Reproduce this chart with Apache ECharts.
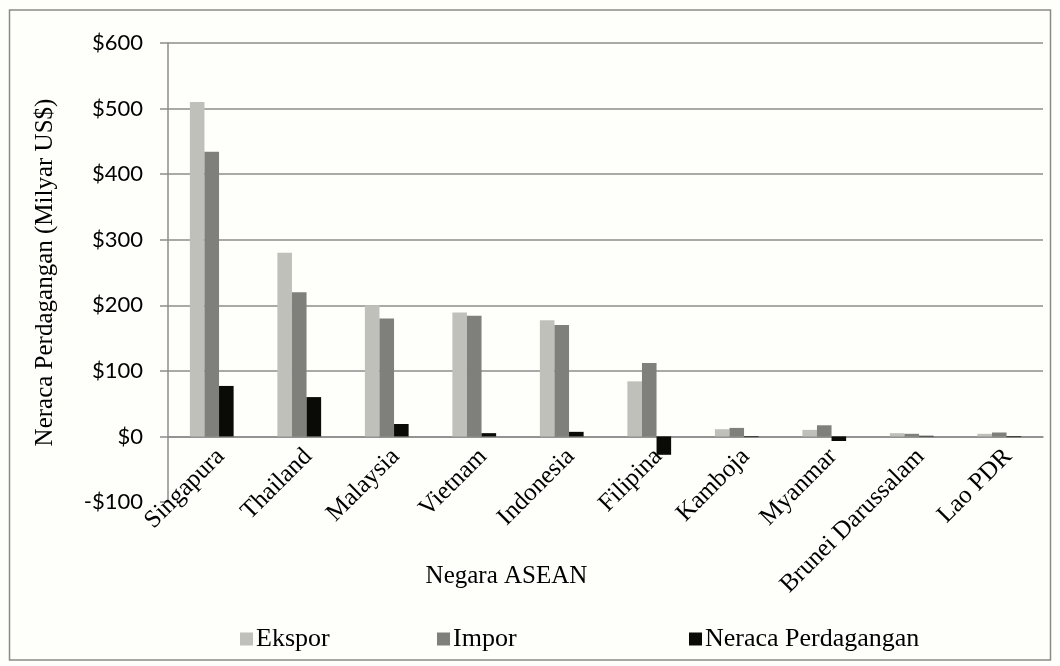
<!DOCTYPE html>
<html>
<head>
<meta charset="utf-8">
<script src="https://cdn.jsdelivr.net/npm/echarts@6/dist/echarts.min.js"></script>
<style>
html,body{margin:0;padding:0;background:#fefefa;}
#chart{width:1060px;height:666px;}
</style>
</head>
<body>
<div id="chart"></div>
<script>
const categories = ['Singapura','Thailand','Malaysia','Vietnam','Indonesia','Filipina','Kamboja','Myanmar','Brunei Darussalam','Lao PDR'];
const ekspor = [510, 280, 200, 189, 177, 84, 11, 10, 5, 4];
const impor  = [434, 220, 180, 184, 170, 112, 13, 17, 4, 6];
const neraca = [77, 60, 19, 5, 7, -28, -1, -7, 1, -1];
const seriesNames = ['Ekspor', 'Impor', 'Neraca Perdagangan'];
const yTicks = [-100, 0, 100, 200, 300, 400, 500, 600];

const serif = '"Liberation Serif", "Times New Roman", serif';
const sans = 'Lato, "Open Sans", sans-serif';
const gridColor = '#8c8c8c';

const chart = echarts.init(document.getElementById('chart'));
const legendCommon = {
  orient: 'horizontal', top: 626, padding: 0, itemWidth: 13, itemHeight: 13, icon: 'rect',
  itemGap: 0, selectedMode: false,
  textStyle: {fontFamily: serif, fontSize: 26, color: '#000', padding: [0,0,0,-2]}
};
chart.setOption({
  backgroundColor: '#fefefa',
  animation: false,
  graphic: [{
    type: 'rect', shape: {x: 9.5, y: 10, width: 1041, height: 650},
    style: {fill: 'none', stroke: '#8a8a8a', lineWidth: 1.5}, silent: true
  }],
  grid: {left: 168, top: 43, right: 17, bottom: 164, containLabel: false, outerBoundsMode: 'none'},
  legend: [
    Object.assign({}, legendCommon, {left: 240, data: [seriesNames[0]]}),
    Object.assign({}, legendCommon, {left: 437, data: [seriesNames[1]]}),
    Object.assign({}, legendCommon, {left: 689, data: [seriesNames[2]]})
  ],
  xAxis: {
    type: 'category', data: categories,
    name: 'Negara ASEAN', nameLocation: 'middle', nameGap: 62, nameMoveOverlap: false,
    nameTextStyle: {fontFamily: serif, fontSize: 25, color: '#000', padding: [0, 198, 0, 0]},
    axisLine: {onZero: true, lineStyle: {color: gridColor, width: 1.5}},
    axisTick: {show: false},
    axisLabel: {rotate: 45, interval: 0, margin: -58, verticalAlign: 'top', fontFamily: serif, fontSize: 25, color: '#000'}
  },
  yAxis: {
    type: 'value', min: yTicks[0], max: yTicks[yTicks.length-1], interval: 100,
    name: 'Neraca Perdagangan (Milyar US$)', nameLocation: 'middle', nameGap: 110, nameMoveOverlap: false,
    nameTextStyle: {fontFamily: serif, fontSize: 25, color: '#000'},
    axisLine: {show: true, lineStyle: {color: gridColor, width: 1.5}},
    axisTick: {show: true, length: 8, lineStyle: {color: gridColor, width: 1.5}},
    axisLabel: {
      margin: 25, fontFamily: sans, fontSize: 22, color: '#000',
      formatter: v => (v < 0 ? '-$' + Math.abs(v) : '$' + v)
    },
    splitLine: {show: true, lineStyle: {color: ['rgba(0,0,0,0)', gridColor, gridColor, gridColor, gridColor, gridColor, gridColor, gridColor], width: 1.5}}
  },
  series: [
    {name: seriesNames[0], type: 'bar', data: ekspor, barGap: '0%', barCategoryGap: '50%',
     itemStyle: {color: '#c0c0bb'}},
    {name: seriesNames[1], type: 'bar', data: impor, barGap: '0%', barCategoryGap: '50%',
     itemStyle: {color: '#7f807b'}},
    {name: seriesNames[2], type: 'bar', data: neraca, barGap: '0%', barCategoryGap: '50%',
     itemStyle: {color: '#0a0b07'}}
  ]
});
</script>
</body>
</html>
